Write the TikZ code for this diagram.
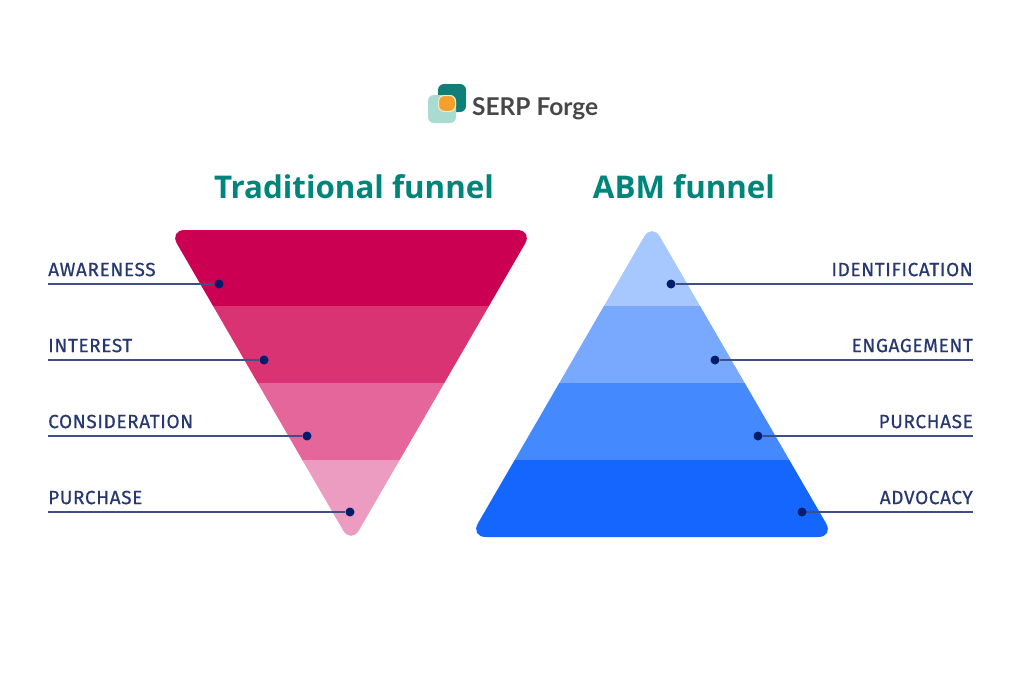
\documentclass[tikz,border=0pt]{standalone}
\usepackage{fontspec}
\setmainfont{Open Sans}
\newfontfamily\logofont{Lato}
\newfontfamily\labelfont[LetterSpace=3.2,FakeBold=0.6]{Fira Sans}
\usetikzlibrary{positioning}
\definecolor{tealtitle}{HTML}{00857A}
\definecolor{navyline}{HTML}{3F4F86}
\definecolor{navydot}{HTML}{001D6C}
\definecolor{navytext}{HTML}{27376F}
\definecolor{logoteal}{HTML}{0F7F78}
\definecolor{logomint}{HTML}{A9DBD0}
\definecolor{logoorange}{HTML}{F5A02E}
\definecolor{logoedge}{HTML}{F6E9C4}
\definecolor{pinkA}{HTML}{CC0052}
\definecolor{pinkB}{HTML}{D93374}
\definecolor{pinkC}{HTML}{E5669B}
\definecolor{pinkD}{HTML}{EB9CC0}
\definecolor{blueA}{HTML}{A6C8FF}
\definecolor{blueB}{HTML}{78A9FF}
\definecolor{blueC}{HTML}{4589FF}
\definecolor{blueD}{HTML}{1466FE}
\begin{document}
\begin{tikzpicture}[x=1pt,y=-1pt,node distance=7.5pt and 0pt]
  \tikzset{
    dot/.style={circle,fill=navydot,minimum size=9pt,inner sep=0pt},
    tag/.style={font=\labelfont\fontsize{19}{21}\selectfont,text=navytext,inner sep=0pt},
    leader/.style={draw=navyline,line width=1.2pt},
    title/.style={font=\bfseries\fontsize{31.3}{36}\selectfont,text=tealtitle,inner sep=0pt},
    box/.style={rounded corners=6pt}
  }
  \useasboundingbox (0,0) rectangle (1024,683);

  % logo
  \fill[box,fill=logoteal] (438,84) rectangle (466,112);
  \fill[box,fill=logomint] (428,95) rectangle (456,123);
  \fill[box,fill=logoorange,draw=logoedge,line width=1pt] (438.5,95.5) rectangle (455.5,111.5);
  \node[inner sep=0pt,anchor=base west,text=black!72,font=\logofont\bfseries\fontsize{24.5}{28}\selectfont]
    (logotext) at (472,115) {SERP Forge};

  % titles
  \node[title,anchor=base] (tradtitle) at (354,198) {Traditional funnel};
  \node[title,anchor=base] (abmtitle)  at (684,198) {ABM funnel};

  % left funnel
  \begin{scope}
    \clip[rounded corners=16pt] (169,230) -- (533,230) -- (351,544) -- cycle;
    \fill[pinkA] (160,220) rectangle (540,306);
    \fill[pinkB] (160,306) rectangle (540,383);
    \fill[pinkC] (160,383) rectangle (540,460);
    \fill[pinkD] (160,460) rectangle (540,550);
  \end{scope}

  % right funnel
  \begin{scope}
    \clip[rounded corners=16pt] (470,537) -- (834,537) -- (652,223) -- cycle;
    \fill[blueA] (460,215) rectangle (840,306);
    \fill[blueB] (460,306) rectangle (840,383);
    \fill[blueC] (460,383) rectangle (840,460);
    \fill[blueD] (460,460) rectangle (840,545);
  \end{scope}

  % left labels
  \coordinate (l_0) at (48,284);
  \coordinate (l_1) at (48,360);
  \coordinate (l_2) at (48,436);
  \coordinate (l_3) at (48,512);
  \node[dot] (ld_0) at (219,284) {};
  \node[dot] (ld_1) at (264,360) {};
  \node[dot] (ld_2) at (307,436) {};
  \node[dot] (ld_3) at (350,512) {};
  \draw[leader] (l_0) -- (ld_0);
  \draw[leader] (l_1) -- (ld_1);
  \draw[leader] (l_2) -- (ld_2);
  \draw[leader] (l_3) -- (ld_3);
  \node[tag,above right=of l_0] {AWARENESS};
  \node[tag,above right=of l_1] {INTEREST};
  \node[tag,above right=of l_2] {CONSIDERATION};
  \node[tag,above right=of l_3] {PURCHASE};

  % right labels
  \coordinate (r_0) at (973,284);
  \coordinate (r_1) at (973,360);
  \coordinate (r_2) at (973,436);
  \coordinate (r_3) at (973,512);
  \node[dot] (rd_0) at (671,284) {};
  \node[dot] (rd_1) at (715,360) {};
  \node[dot] (rd_2) at (758,436) {};
  \node[dot] (rd_3) at (802,512) {};
  \draw[leader] (r_0) -- (rd_0);
  \draw[leader] (r_1) -- (rd_1);
  \draw[leader] (r_2) -- (rd_2);
  \draw[leader] (r_3) -- (rd_3);
  \node[tag,above left=of r_0] {IDENTIFICATION};
  \node[tag,above left=of r_1] {ENGAGEMENT};
  \node[tag,above left=of r_2] {PURCHASE};
  \node[tag,above left=of r_3] {ADVOCACY};
\end{tikzpicture}
\end{document}
